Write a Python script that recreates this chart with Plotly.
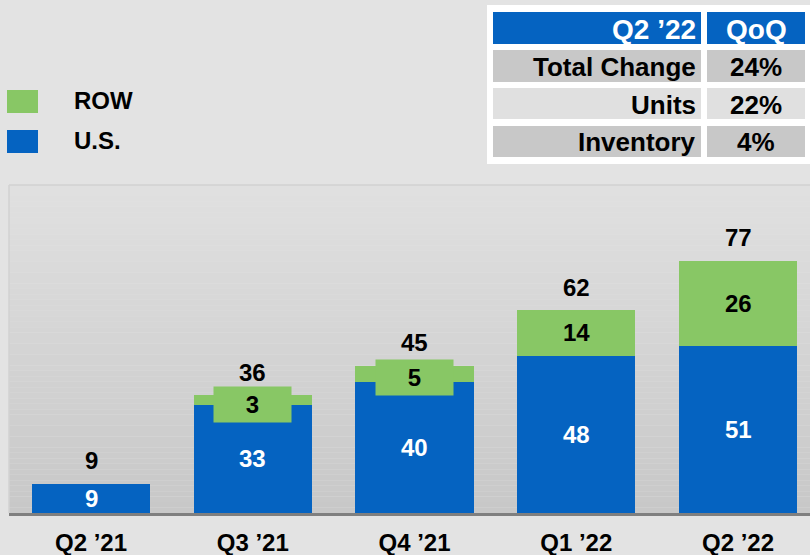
import plotly.graph_objects as go

# ---- data ----
quarters = ["Q2 ’21", "Q3 ’21", "Q4 ’21", "Q1 ’22", "Q2 ’22"]
us_values = [9, 33, 40, 48, 51]
row_values = [0, 3, 5, 14, 26]
totals = [9, 36, 45, 62, 77]

table_header = ["Q2 ’22", "QoQ"]
table_rows = ["Total Change", "Units", "Inventory"]
table_values = ["24%", "22%", "4%"]

legend_names = ["ROW", "U.S."]

# ---- style ----
BLUE = "#0563C1"
GREEN = "#88C765"
FONT = "Liberation Sans, Arial, sans-serif"
W, H = 810, 555
L, R, T, B = 9, 0, 185, 42
PW = W - L - R
PH = H - T - B


def px(x):
    return (x - L) / PW


def py(y):
    return (H - B - y) / PH


fig = go.Figure()
fig.add_trace(go.Bar(x=quarters, y=us_values, name="U.S.", marker=dict(color=BLUE, line=dict(width=0)),
                     width=0.73, hoverinfo="skip"))
fig.add_trace(go.Bar(x=quarters, y=row_values, name="ROW", marker=dict(color=GREEN, line=dict(width=0)),
                     width=0.73, hoverinfo="skip"))

shapes = []
# gradient plot background
n = 60
top_c, bot_c = (224, 224, 224), (200, 200, 200)
for i in range(n):
    t = i / (n - 1)
    c = tuple(round(top_c[k] + (bot_c[k] - top_c[k]) * t) for k in range(3))
    y0 = 1 - i / n
    y1 = 1 - (i + 1) / n
    shapes.append(dict(type="rect", xref="paper", yref="paper", x0=0, x1=1, y0=y1, y1=y0,
                       fillcolor="rgb(%d,%d,%d)" % c, line=dict(width=0), layer="below"))
# plot border (top/left)
shapes.append(dict(type="line", xref="paper", yref="paper", x0=0, x1=1, y0=1, y1=1,
                   line=dict(color="#d2d2d2", width=1.5), layer="below"))
shapes.append(dict(type="line", xref="paper", yref="paper", x0=0, x1=0, y0=0, y1=1,
                   line=dict(color="#d2d2d2", width=1.5), layer="below"))

annotations = []
# bar labels
for i, q in enumerate(quarters):
    annotations.append(dict(x=q, y=us_values[i] / 2, text=str(us_values[i]), showarrow=False,
                            font=dict(family=FONT, size=24, color="white", weight="bold")))
    if row_values[i] > 0:
        if row_values[i] < 10:
            annotations.append(dict(x=q, y=us_values[i] + row_values[i] / 2, yshift=-4,
                                    text=str(row_values[i]), showarrow=False, bgcolor=GREEN,
                                    width=77, height=35, borderpad=0,
                                    font=dict(family=FONT, size=24, color="black", weight="bold")))
        else:
            annotations.append(dict(x=q, y=us_values[i] + row_values[i] / 2, text=str(row_values[i]),
                                    showarrow=False,
                                    font=dict(family=FONT, size=24, color="black", weight="bold")))
    annotations.append(dict(x=q, y=totals[i], yshift=23, text=str(totals[i]), showarrow=False,
                            font=dict(family=FONT, size=24, color="black", weight="bold")))

# legend
legend_colors = [GREEN, BLUE]
legend_y = [(90, 113), (130, 153)]
for name, col, (ya, yb) in zip(legend_names, legend_colors, legend_y):
    shapes.append(dict(type="rect", xref="paper", yref="paper", x0=px(7), x1=px(38), y0=py(yb), y1=py(ya),
                       fillcolor=col, line=dict(width=0)))
    annotations.append(dict(xref="paper", yref="paper", x=px(72), y=py((ya + yb) / 2 - 1.5), xanchor="left",
                            yanchor="middle", text=name, showarrow=False,
                            font=dict(family=FONT, size=24, color="black", weight="bold")))

# table
shapes.append(dict(type="rect", xref="paper", yref="paper", x0=px(487), x1=px(812), y0=py(164), y1=py(5),
                   fillcolor="white", line=dict(width=0)))
row_bounds = [(12, 44), (50, 82), (88, 119), (126, 157)]
row_fills = [BLUE, "#c8c8c8", "#e0e0e0", "#c8c8c8"]
col_bounds = [(493, 701), (707, 805)]
for (ya, yb), fc in zip(row_bounds, row_fills):
    for (xa, xb) in col_bounds:
        shapes.append(dict(type="rect", xref="paper", yref="paper", x0=px(xa), x1=px(xb),
                           y0=py(yb), y1=py(ya), fillcolor=fc, line=dict(width=0)))

cells_left = [table_header[0]] + table_rows
cells_right = [table_header[1]] + table_values
for r, (ya, yb) in enumerate(row_bounds):
    is_head = r == 0
    color = "white" if is_head else "black"
    size = 28 if is_head else 26
    yc = py((ya + yb) / 2 + 1)
    annotations.append(dict(xref="paper", yref="paper", x=px(698), y=yc, xanchor="right", yanchor="middle",
                            text=cells_left[r], showarrow=False,
                            font=dict(family=FONT, size=size, color=color, weight="bold")))
    annotations.append(dict(xref="paper", yref="paper", x=px(756), y=yc, xanchor="center", yanchor="middle",
                            text=cells_right[r], showarrow=False,
                            font=dict(family=FONT, size=size, color=color, weight="bold")))

fig.update_layout(
    width=W, height=H,
    margin=dict(l=L, r=R, t=T, b=B, pad=0, autoexpand=False),
    paper_bgcolor="#e3e3e3",
    plot_bgcolor="rgba(0,0,0,0)",
    barmode="stack",
    showlegend=False,
    shapes=shapes,
    annotations=annotations,
    xaxis=dict(range=[-0.507, 4.445], showgrid=False, zeroline=False, showline=True,
               linecolor="#7f7f7f", linewidth=3, ticks="", ticklabelstandoff=6, automargin=False,
               tickfont=dict(family=FONT, size=24, color="black", weight="bold"),
               fixedrange=True),
    yaxis=dict(range=[0, 100.2], visible=False, showgrid=False, zeroline=False, fixedrange=True,
               automargin=False),
)

fig.write_html("out.html", config={"displayModeBar": False},
               post_script="document.body.style.margin='0';document.body.style.background='#e3e3e3';")
